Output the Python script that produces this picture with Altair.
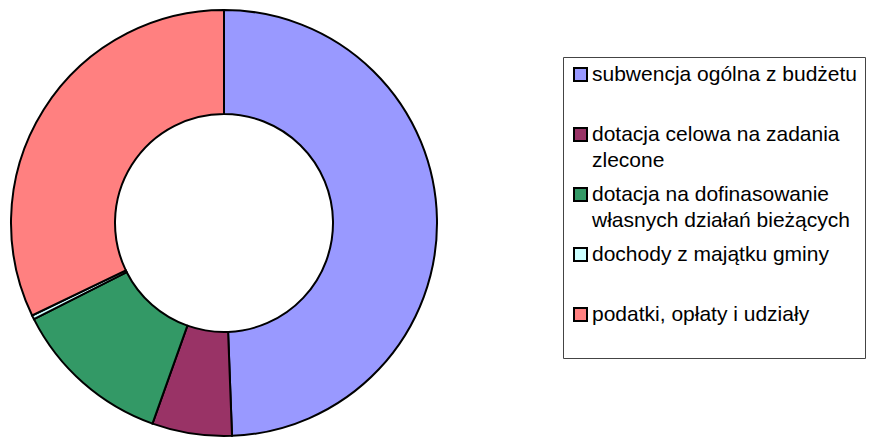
import altair as alt
import pandas as pd

# Legend lines (two lines per entry; empty second line keeps rows evenly spaced)
legend_lines = [
    ["subwencja ogólna z budżetu    ", ""],
    ["dotacja celowa na zadania", "zlecone"],
    ["dotacja na dofinasowanie", "własnych działań bieżących"],
    ["dochody z majątku gminy", ""],
    ["podatki, opłaty i udziały", ""],
]
shares = [49.4, 6.05, 12.1, 0.3, 32.15]
colors = ["#9999FF", "#993366", "#339966", "#CCFFFF", "#FF8080"]

labels = ["|".join(l) for l in legend_lines]
df = pd.DataFrame({"label": labels, "share": shares, "idx": list(range(len(labels)))})

chart = (
    alt.Chart(df)
    .mark_arc(outerRadius=213, innerRadius=109, stroke="black", strokeWidth=2)
    .encode(
        theta=alt.Theta("share:Q", stack=True),
        order=alt.Order("idx:Q"),
        color=alt.Color(
            "label:N",
            sort=labels,
            scale=alt.Scale(domain=labels, range=colors),
            legend=alt.Legend(
                orient="none",
                legendX=555,
                legendY=49,
                title=None,
                padding=7,
                strokeColor="#444444",
                labelFont="Liberation Sans",
                labelFontSize=21,
                labelColor="black",
                labelLimit=0,
                labelOffset=1,
                labelExpr="split(datum.label, '|')",
                symbolType="square",
                symbolSize=169,
                symbolStrokeColor="black",
                symbolStrokeWidth=2,
                symbolOpacity=1,
                rowPadding=12,
            ),
        ),
    )
    .properties(
        width=432,
        height=430,
        padding={"left": 0, "top": 0, "right": 426, "bottom": 0},
        autosize=alt.AutoSizeParams(type="none"),
        background="white",
    )
    .configure_view(stroke=None)
    .configure(style={"guide-label": {"lineHeight": 26}})
)

chart.save("out.html", embed_options={"renderer": "svg", "actions": False})
